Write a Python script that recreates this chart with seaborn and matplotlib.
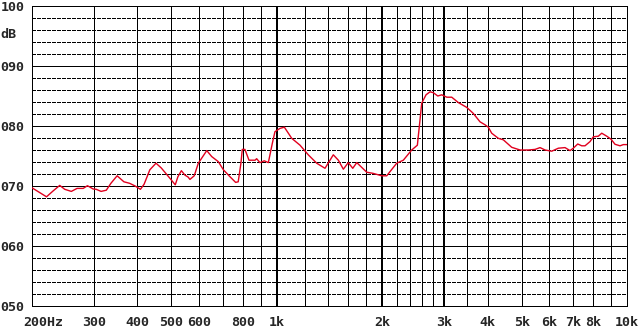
import numpy as np
import pandas as pd
import seaborn as sns
import matplotlib
matplotlib.use("Agg")
import matplotlib.pyplot as plt
from matplotlib.transforms import blended_transform_factory, ScaledTranslation

# Frequency response (Hz, dB)
freq = [200, 220, 230, 240, 248, 259, 269, 280, 288, 299, 305, 315, 326, 336, 350,
        366, 380, 394, 408, 418, 434, 452, 468, 495, 513, 522, 534, 547, 558, 565,
        581, 597, 631, 652, 681, 704, 735, 763, 776, 790, 797, 811, 833, 867, 876,
        895, 921, 946, 971, 988, 1021, 1051, 1079, 1103, 1165, 1230, 1300, 1373, 1419,
        1450, 1499, 1549, 1600, 1648, 1692, 1806, 1886, 1994, 2060, 2200, 2298, 2428,
        2520, 2564, 2593, 2668, 2739, 2799, 2882, 2958, 3058, 3159, 3300, 3487, 3640,
        3804, 3932, 4018, 4108, 4290, 4434, 4686, 4950, 5228, 5464, 5646, 5836, 6096,
        6368, 6653, 6876, 7026, 7233, 7426, 7588, 7842, 8014, 8282, 8470, 8754, 9004,
        9244, 9552, 9762, 10000]
level = [69.7, 68.2, 69.2, 70.1, 69.45, 69.1, 69.6, 69.6, 70.05, 69.5, 69.45, 69.1, 69.3, 70.45, 71.7,
         70.7, 70.45, 70.0, 69.45, 70.3, 72.7, 73.8, 73.0, 71.3, 70.2, 71.55, 72.55, 71.8, 71.5, 71.1,
         71.7, 73.8, 75.9, 74.9, 74.05, 72.7, 71.55, 70.6, 70.7, 73.8, 76.1, 76.1, 74.3, 74.3, 74.55,
         73.9, 74.2, 73.9, 77.1, 79.05, 79.6, 79.8, 78.8, 77.95, 76.8, 75.2, 73.8, 72.95, 74.3,
         75.2, 74.3, 72.8, 73.9, 72.95, 73.9, 72.3, 72.1, 71.7, 71.7, 73.8, 74.3, 76.0,
         76.8, 81.0, 83.8, 85.2, 85.7, 85.55, 85.0, 85.2, 84.8, 84.8, 83.9, 83.1, 82.1,
         80.7, 80.2, 79.8, 78.8, 77.95, 77.7, 76.45, 76.0, 76.0, 76.1, 76.4, 76.0, 75.8,
         76.3, 76.4, 75.9, 76.3, 77.0, 76.7, 76.7, 77.4, 78.2, 78.3, 78.8, 78.3, 77.8,
         76.95, 76.7, 76.9, 76.9]

# grid / labels
grid_freqs = [300, 400, 500, 600, 700, 800, 900, 1000, 1200, 1400, 1600, 1800, 2000,
              2200, 2400, 2600, 2800, 3000, 3500, 4000, 5000, 6000, 7000, 8000, 9000]
thick_freqs = [1000, 2000, 3000]
xlabel_freqs = [200, 300, 400, 500, 600, 800, 1000, 2000, 3000, 4000, 5000, 6000, 7000, 8000, 10000]
xlabel_text = ["200Hz", "300", "400", "500", "600", "800", "1k", "2k", "3k", "4k",
               "5k", "6k", "7k", "8k", "10k"]
ytick_vals = [50, 60, 70, 80, 90, 100]
ytick_text = ["050", "060", "070", "080", "090", "100"]

df = pd.DataFrame({"freq": freq, "level": level})

sns.set_style("white")
plt.rcParams["font.family"] = ["DejaVu Sans Mono", "DejaVu Sans"]
plt.rcParams["lines.scale_dashes"] = False

fig = plt.figure(figsize=(6.4, 3.31), dpi=100)
ax = fig.add_axes([32 / 640, 1 - 306 / 331, 595 / 640, 300 / 331])
ax.set_xscale("log")
ax.set_xlim(200, 10000)
ax.set_ylim(50, 100)

px = 0.72
# horizontal grid: dashed every 2 dB, solid every 10
minor = [v for v in range(52, 100, 2) if v % 10 != 0]
ax.hlines(minor, 200, 10000, colors="black", linewidth=px, linestyles=[(0, (2.2, 1.4))],
          antialiased=False, zorder=1)
ax.hlines([60, 70, 80, 90], 200, 10000, colors="black", linewidth=px, antialiased=False, zorder=1)
widths = [2 * px if f in thick_freqs else px for f in grid_freqs]
ax.vlines(grid_freqs, 50, 100, colors="black", linewidth=widths, antialiased=False, zorder=1)

sns.lineplot(data=df, x="freq", y="level", ax=ax, color="#e0001e", linewidth=1.0,
             sort=False, zorder=3)

for s in ax.spines.values():
    s.set_color("black")
    s.set_linewidth(px)
    s.set_antialiased(False)

ax.set_xlabel("")
ax.set_ylabel("")
ax.set_xticks([])
ax.set_xticks([], minor=True)
ax.set_yticks(ytick_vals)
ax.set_yticklabels(ytick_text, fontsize=9.6, fontweight="bold")
ax.tick_params(axis="y", length=0, pad=5.5)

trans = blended_transform_factory(ax.transData, ax.transAxes)
for f, t in zip(xlabel_freqs, xlabel_text):
    if t == "200Hz":
        ax.text(f, -0.035, t, transform=trans + ScaledTranslation(-9 / 100, 0, fig.dpi_scale_trans),
                ha="left", va="top", fontsize=9.6, fontweight="bold")
    else:
        ax.text(f, -0.035, t, transform=trans, ha="center", va="top",
                fontsize=9.6, fontweight="bold")

fig.text(0, 1 - 34.5 / 331, "dB", ha="left", va="center", fontsize=9.6, fontweight="bold")

fig.savefig("out.png", dpi=100, facecolor="white")
